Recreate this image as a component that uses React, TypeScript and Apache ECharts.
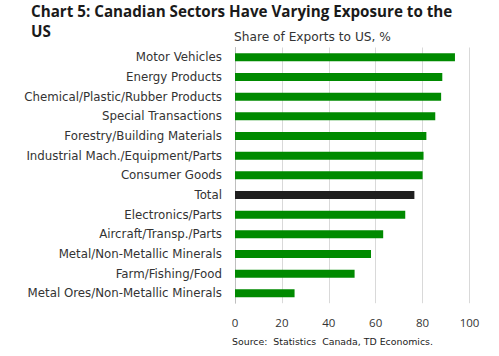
import React, { useEffect, useRef } from "react";
import * as echarts from "echarts";

const categories = [
  "Motor Vehicles",
  "Energy Products",
  "Chemical/Plastic/Rubber Products",
  "Special Transactions",
  "Forestry/Building Materials",
  "Industrial Mach./Equipment/Parts",
  "Consumer Goods",
  "Total",
  "Electronics/Parts",
  "Aircraft/Transp./Parts",
  "Metal/Non-Metallic Minerals",
  "Farm/Fishing/Food",
  "Metal Ores/Non-Metallic Minerals",
];
const shares = [93.8, 88.4, 87.9, 85.4, 81.6, 80.4, 80.0, 76.5, 72.6, 63.2, 58.0, 51.0, 25.4];
const xTicks = [0, 20, 40, 60, 80, 100];

const titleText = "Chart 5: Canadian Sectors Have Varying Exposure to the\nUS";
const subtitleText = "Share of Exports to US, %";
const sourceText = "Source:  Statistics  Canada, TD Economics.";

export default function App() {
  const ref = useRef<HTMLDivElement>(null);
  useEffect(() => {
    if (!ref.current) return;
    const chart = echarts.init(ref.current, undefined, { renderer: "svg" });
    const font = "'Open Sans', sans-serif";
    const wide = "'DejaVu Sans', sans-serif";
    chart.setOption({
      animation: false,
      textStyle: { fontFamily: font },
      title: [
        {
          text: titleText,
          left: 31,
          top: 1,
          padding: 0,
          textStyle: { fontSize: 15.2, fontWeight: "bold", color: "#1a1a1a", lineHeight: 20, fontFamily: font },
        },
        {
          text: subtitleText,
          left: 234,
          top: 31,
          padding: 0,
          textStyle: { fontSize: 12.2, fontWeight: "normal", color: "#333", fontFamily: wide },
        },
        {
          text: sourceText,
          left: 232,
          top: 337,
          padding: 0,
          textStyle: { fontSize: 9.4, fontWeight: "normal", color: "#222", fontFamily: wide },
        },
      ],
      grid: { left: 235, right: 29.5, top: 47.5, bottom: 52.8, containLabel: false },
      xAxis: {
        type: "value",
        min: xTicks[0],
        max: xTicks[xTicks.length - 1],
        interval: 20,
        axisLine: { show: false },
        axisTick: { show: false },
        splitLine: { show: true, lineStyle: { color: "#d9d9d9", width: 1 } },
        axisLabel: { fontSize: 11.5, color: "#333", margin: 13, fontFamily: font },
      },
      yAxis: {
        type: "category",
        data: categories,
        inverse: true,
        axisLine: { show: true, lineStyle: { color: "#bfbfbf" } },
        axisTick: { show: false },
        axisLabel: { fontSize: 11.8, color: "#333", margin: 13, fontFamily: wide },
      },
      series: [
        {
          type: "bar",
          barWidth: 8,
          data: shares.map((v, i) => ({
            value: v,
            itemStyle: { color: categories[i] === "Total" ? "#1f1f1f" : "#008a00" },
          })),
        },
      ],
    });
    return () => chart.dispose();
  }, []);
  return <div ref={ref} style={{ width: 499, height: 356, position: "absolute", left: 0, top: 0 }} />;
}
